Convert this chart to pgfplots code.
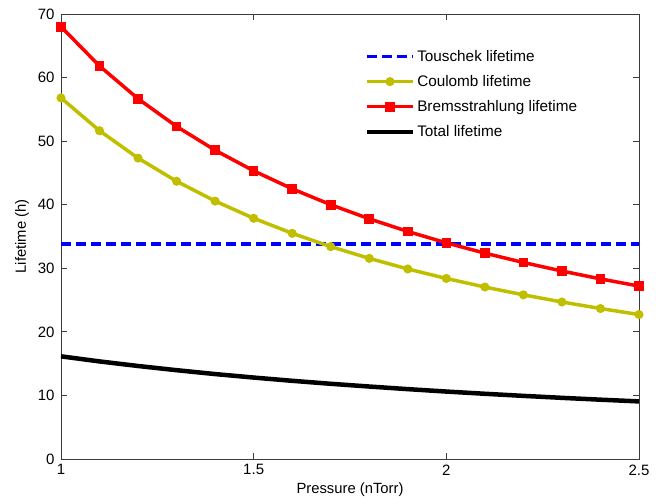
\documentclass[border=0pt]{standalone}
\usepackage{fontspec}
\setmainfont{Liberation Sans}
\usepackage{pgfplots}
\pgfplotsset{compat=1.18}
\definecolor{myyellow}{RGB}{191,191,0}
\definecolor{axgray}{RGB}{60,60,60}
\begin{document}
\begin{tikzpicture}
\begin{axis}[
  scale only axis, width=578pt, height=445pt,
  xmin=1, xmax=2.5, ymin=0, ymax=70,
  xtick={1,1.5,2,2.5}, ytick={0,10,...,70},
  tick align=inside, major tick length=6pt,
  axis line style={axgray, line width=0.8pt},
  tick style={axgray, line width=0.8pt},
  ticklabel style={font=\fontsize{15}{17}\selectfont},
  /pgf/number format/assume math mode=true,
  xticklabel style={yshift=-2pt},
  yticklabel style={xshift=-3pt},
  xlabel={Pressure (nTorr)}, ylabel={Lifetime (h)},
  label style={font=\fontsize{14.8}{17}\selectfont},
  xlabel style={at={(axis description cs:0.5,-0.0697)},anchor=center},
  ylabel style={at={(axis description cs:-0.0675,0.5)},anchor=center},
  legend image code/.code={\draw[mark repeat=2,mark phase=2,#1] plot coordinates {(0pt,0pt)(23pt,0pt)(46pt,0pt)};},
  legend style={at={(0.52,0.928)}, anchor=north west, draw=none, fill=none,
    font=\fontsize{15.3}{17}\selectfont, row sep=8.5pt, nodes={inner sep=2pt}},
  legend cell align=left,
]
\addplot[blue, line width=3.5pt, dash pattern=on 10pt off 5pt] coordinates {(1,33.8) (2.5,33.8)};
\addlegendentry{Touschek lifetime}
\addplot[myyellow, line width=3.5pt, mark=*, mark size=3.5pt, mark options={solid, fill=myyellow, line width=2pt}] coordinates {
(1.0,56.80) (1.1,51.64) (1.2,47.33) (1.3,43.69) (1.4,40.57) (1.5,37.87) (1.6,35.50) (1.7,33.41)
(1.8,31.56) (1.9,29.89) (2.0,28.40) (2.1,27.05) (2.2,25.82) (2.3,24.70) (2.4,23.67) (2.5,22.72)};
\addlegendentry{Coulomb lifetime}
\addplot[red, line width=3.5pt, mark=square*, mark size=3.8pt, mark options={solid, fill=red, line width=2pt}] coordinates {
(1.0,68.00) (1.1,61.82) (1.2,56.67) (1.3,52.31) (1.4,48.57) (1.5,45.33) (1.6,42.50) (1.7,40.00)
(1.8,37.78) (1.9,35.79) (2.0,34.00) (2.1,32.38) (2.2,30.91) (2.3,29.57) (2.4,28.33) (2.5,27.20)};
\addlegendentry{Bremsstrahlung lifetime}
\addplot[black, line width=4.5pt] coordinates {
(1.0,16.15) (1.1,15.35) (1.2,14.63) (1.3,13.97) (1.4,13.36) (1.5,12.81) (1.6,12.30) (1.7,11.83)
(1.8,11.40) (1.9,10.99) (2.0,10.61) (2.1,10.26) (2.2,9.93) (2.3,9.62) (2.4,9.33) (2.5,9.06)};
\addlegendentry{Total lifetime}
\end{axis}
\path[use as bounding box] (-61pt,-42pt) rectangle (601pt,459pt);
\end{tikzpicture}
\end{document}
